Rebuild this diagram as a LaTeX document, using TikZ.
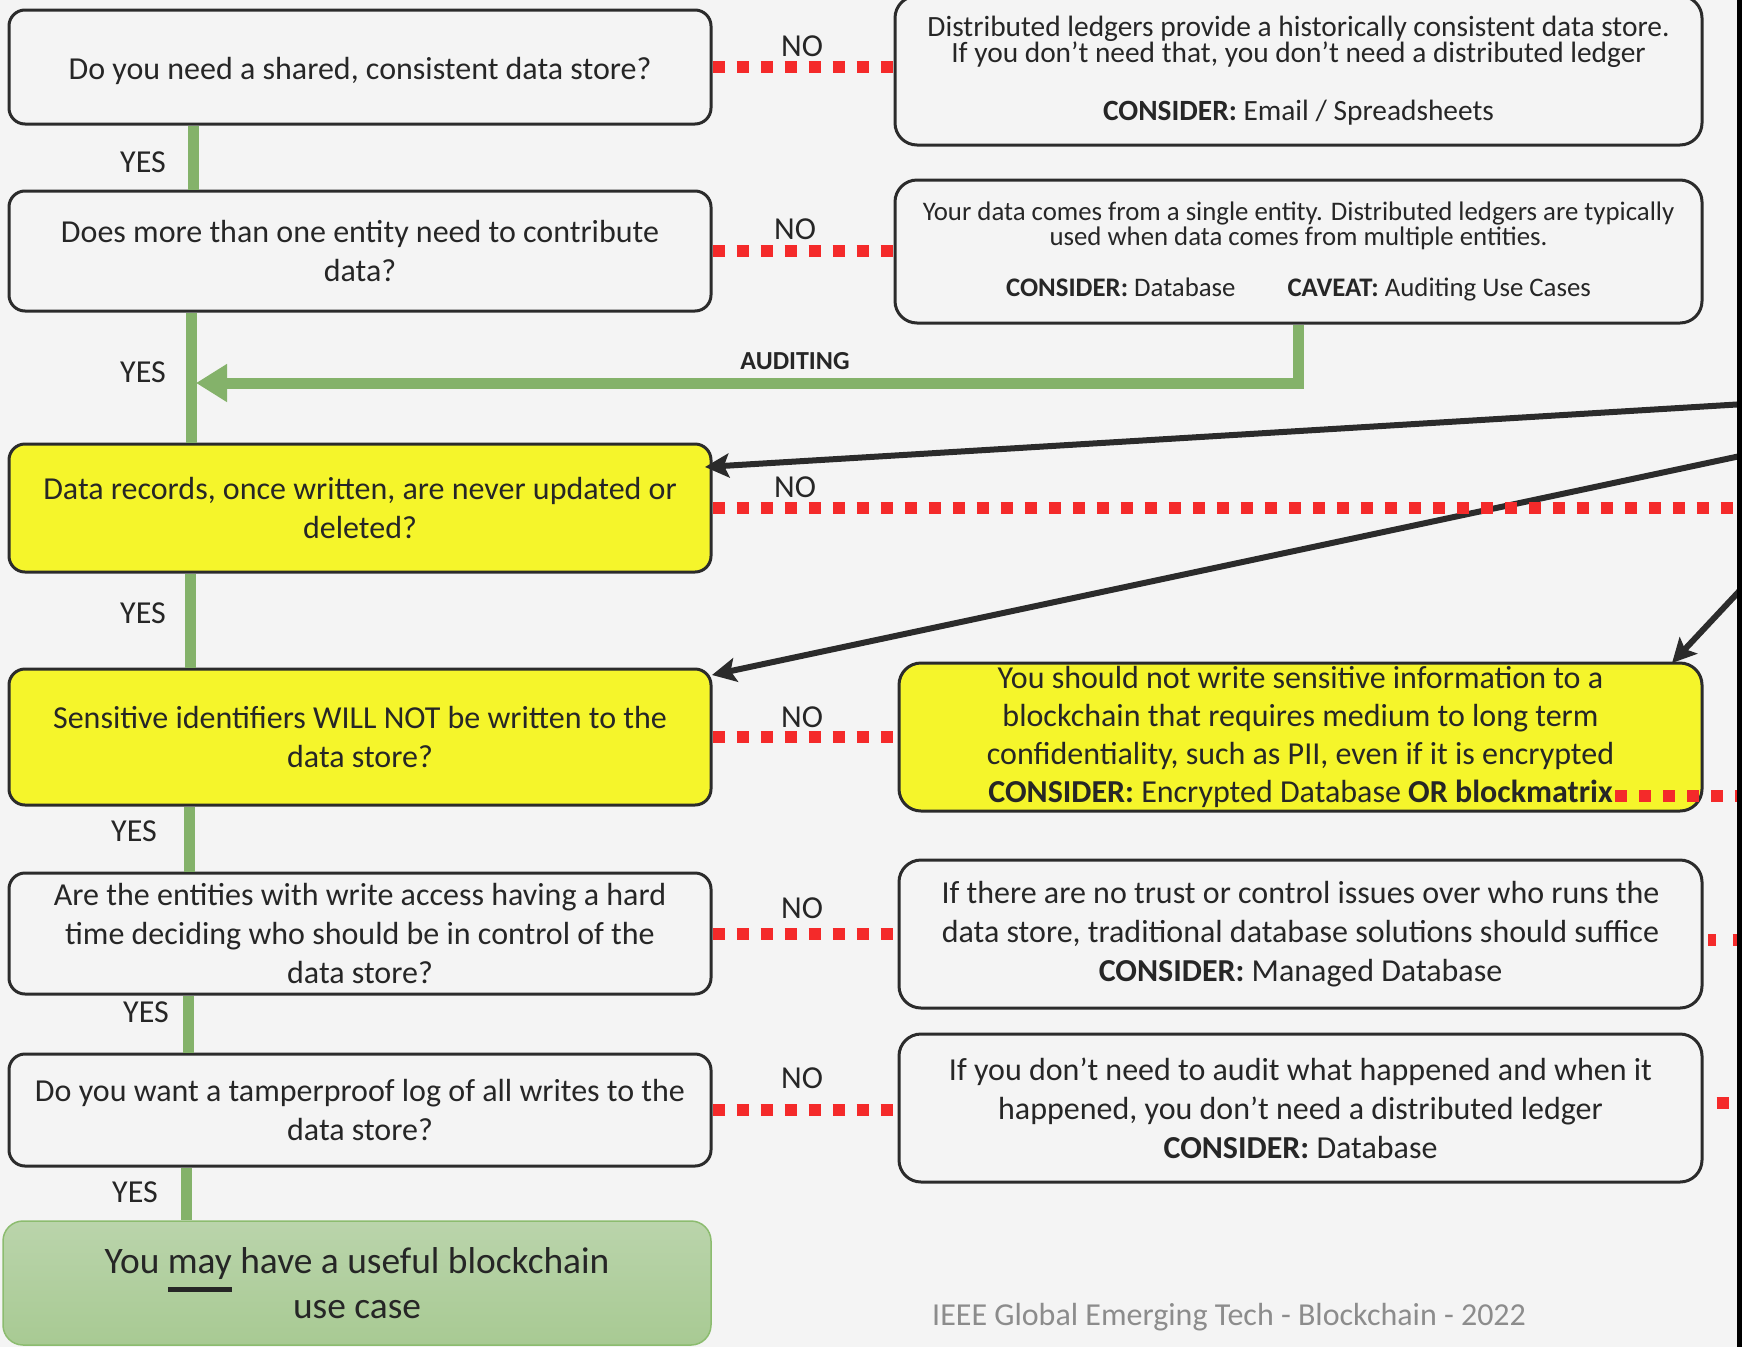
\documentclass[tikz,border=0pt]{standalone}
\usepackage{fontspec}
\setmainfont{Carlito}
\usetikzlibrary{arrows.meta,calc}
\definecolor{bg}{HTML}{F4F4F4}
\definecolor{ink}{HTML}{262626}
\definecolor{boxline}{HTML}{2B2B2B}
\definecolor{ylw}{HTML}{F5F52B}
\definecolor{grn}{HTML}{84B26A}
\definecolor{redd}{HTML}{F42A2A}
\definecolor{resTop}{HTML}{BAD4AB}
\definecolor{resBot}{HTML}{A8CA93}
\definecolor{resLine}{HTML}{8CBC6F}
\definecolor{foot}{HTML}{8C8C8C}
\newcommand\mayul[1]{\setbox0\hbox{#1}\rlap{\rule[-0.49em]{\wd0}{0.13em}}#1}
\newcommand\fs[2]{\fontsize{#1}{#2}\selectfont}
\tikzset{
  qbox/.style={draw=boxline, line width=3pt, rounded corners=16pt, fill=bg,
    text=ink, align=center, inner sep=0pt, minimum width=702pt},
  abox/.style={draw=boxline, line width=3pt, rounded corners=22pt, fill=bg,
    text=ink, align=center, inner sep=0pt, minimum width=807pt},
  ylwfill/.style={fill=ylw},
  gline/.style={draw=grn, line width=11pt},
  reddot/.style={draw=redd, line width=12pt, dash pattern=on 12pt off 12pt},
  blk/.style={draw=boxline, line width=6pt, -{Stealth[length=24pt,width=24pt,inset=5pt]}},
  lbl/.style={text=ink, font=\fs{32}{32}, inner sep=0pt},
}
\begin{document}
\begin{tikzpicture}[x=1pt,y=-1pt]
\useasboundingbox (0,0) rectangle (1742,1347);
\fill[bg] (0,0) rectangle (1742,1347);
\begin{scope}
\clip (0,0) rectangle (1742,1347);
% nodes
\node[qbox, minimum height=114pt, font=\fs{32}{39}] (q1) at (360,67) {\raisebox{-4pt}[\height][\depth]{Do you need a shared, consistent data store?}};
\node[qbox, minimum height=120pt, font=\fs{32}{39}] (q2) at (360,251) {Does more than one entity need to contribute\\data?};
\node[qbox, ylwfill, minimum height=128pt, font=\fs{32}{39}] (q3) at (360,508) {Data records, once written, are never updated or\\deleted?};
\node[qbox, ylwfill, minimum height=136pt, font=\fs{32}{39}] (q4) at (360,737) {Sensitive identifiers WILL NOT be written to the\\data store?};
\node[qbox, minimum height=121pt, font=\fs{32}{39}] (q5) at (360,933.5) {Are the entities with write access having a hard\\time deciding who should be in control of the\\data store?};
\node[qbox, minimum height=112pt, font=\fs{32}{39}] (q6) at (360,1110) {Do you want a tamperproof log of all writes to the\\data store?};
\node[draw=resLine, line width=1.5pt, rounded corners=20pt, top color=resTop, bottom color=resBot,
  text=ink, align=center, inner sep=0pt, minimum width=708pt, minimum height=124pt, font=\fs{37.4}{45}]
  (res) at (357,1283) {You \mayul{may} have a useful blockchain\\use case};

\node[abox, minimum height=149pt, font=\fs{29.4}{26.5}] (a1) at (1298.5,70.5) {Distributed ledgers provide a historically consistent data store.\\If you don’t need that, you don’t need a distributed ledger\\[31.5pt]\textbf{CONSIDER:} Email / Spreadsheets};
\node[abox, minimum height=143pt, font=\fs{26.8}{25.5}] (a2) at (1298.5,251.5) {Your data comes from a single entity. Distributed ledgers are typically\\used when data comes from multiple entities.\\[25.5pt]\textbf{CONSIDER:} Database\hspace{52pt}\textbf{CAVEAT:} Auditing Use Cases};
\node[abox, ylwfill, minimum width=803pt, minimum height=148pt, font=\fs{32}{38.3}] (a4) at (1300.5,737) {You should not write sensitive information to a\\blockchain that requires medium to long term\\confidentiality, such as PII, even if it is encrypted\\\textbf{CONSIDER:} Encrypted Database \textbf{OR blockmatrix}};
\node[abox, minimum width=803pt, minimum height=148pt, font=\fs{32}{39}] (a5) at (1300.5,934) {If there are no trust or control issues over who runs the\\data store, traditional database solutions should suffice\\\textbf{CONSIDER:} Managed Database};
\node[abox, minimum width=803pt, minimum height=148pt, font=\fs{32}{39}] (a6) at (1300.5,1108) {If you don’t need to audit what happened and when it\\happened, you don’t need a distributed ledger\\\textbf{CONSIDER:} Database};

% green yes-flow
\draw[gline] (193,0 |- q1.south) -- (193,0 |- q2.north);
\draw[gline] (191,0 |- q2.south) -- (191,0 |- q3.north);
\draw[gline] (190,0 |- q3.south) -- (190,0 |- q4.north);
\draw[gline] (189,0 |- q4.south) -- (189,0 |- q5.north);
\draw[gline] (188,0 |- q5.south) -- (188,0 |- q6.north);
\draw[gline] (186,0 |- q6.south) -- (186,0 |- res.north);
\coordinate (audtip) at (196,383);
\draw[gline, -{Triangle[length=31pt,width=36pt]}] (a2.south) |- (audtip);

% black arrows from off-canvas
\coordinate (e1) at (1745,404);
\coordinate (e2) at (1745,455);
\coordinate (e3) at (1745,585);
\coordinate (t1) at (705,467);
\coordinate (t2) at (712,675);
\coordinate (t3) at (1672,663);
\draw[blk] (e1) -- (t1);
\draw[blk] (e2) -- (t2);
\draw[blk] (e3) -- (t3);

% red NO connectors
\coordinate (r3e) at (1745,508);
\draw[reddot] (q1.east) -- (q1.east -| a1.west);
\draw[reddot] (q2.east) -- (q2.east -| a2.west);
\draw[reddot] (q3.east) -- (r3e);
\draw[reddot] (q4.east) -- (q4.east -| a4.west);
\draw[reddot] (q5.east) -- (q5.east -| a5.west);
\draw[reddot] (q6.east) -- (q6.east -| a6.west);
\coordinate (r4s) at (1615,796);
\coordinate (r4e) at (1745,796);
\draw[reddot] (r4s) -- (r4e);
\coordinate (r5s) at (1708,940);
\coordinate (r5e) at (1745,940);
\draw[reddot, dash pattern=on 7.5pt off 17pt on 12pt off 12pt] (r5s) -- (r5e);
\coordinate (r6s) at (1716.5,1103);
\coordinate (r6e) at (1728.5,1103);
\draw[draw=redd, line width=12pt] (r6s) -- (r6e);

% labels
\node[lbl] (y1) at (143,162) {YES};
\node[lbl] (y2) at (143,372) {YES};
\node[lbl] (y3) at (143,613) {YES};
\node[lbl] (y4) at (134,831) {YES};
\node[lbl] (y5) at (146,1012) {YES};
\node[lbl] (y6) at (135,1192) {YES};
\node[lbl] (n1) at (802,46) {NO};
\node[lbl] (n2) at (795,229) {NO};
\node[lbl] (n3) at (795,487) {NO};
\node[lbl] (n4) at (802,717) {NO};
\node[lbl] (n5) at (802,908) {NO};
\node[lbl] (n6) at (802,1078) {NO};
\node[text=ink, font=\fs{26}{26}\bfseries, inner sep=0pt] (aud) at (795,361) {AUDITING};
\node[anchor=west, text=foot, font=\fs{32}{32}, inner sep=0pt] (ft) at (932,1317) {IEEE Global Emerging Tech - Blockchain - 2022};
\end{scope}
\fill[black] (1737,0) rectangle (1742,1347);
\end{tikzpicture}
\end{document}
